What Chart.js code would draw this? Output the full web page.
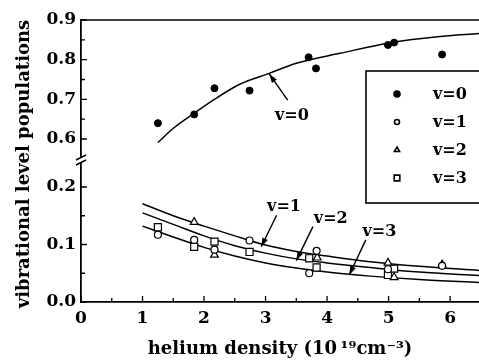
<!DOCTYPE html>
<html>
<head>
<meta charset="utf-8">
<script src="https://cdn.jsdelivr.net/npm/chart.js@4.4.0/dist/chart.umd.min.js"></script>
<style>
  html, body { margin: 0; padding: 0; background: #fff; }
  #wrap { width: 479px; height: 362px; }
</style>
</head>
<body>
<div id="wrap"><canvas id="chart" width="479" height="362"></canvas></div>
<script>
// measured points, helium density in 1e19 cm^-3
const v0X = [1.25, 1.84, 2.17, 2.74, 3.70, 3.82, 4.99, 5.09, 5.87];
const v0Y = [0.640, 0.662, 0.728, 0.722, 0.806, 0.778, 0.837, 0.843, 0.813];
const v1X = [1.25, 1.84, 2.17, 2.74, 3.71, 3.83, 4.99, 5.87];
const v1Y = [0.117, 0.108, 0.091, 0.107, 0.050, 0.089, 0.057, 0.063];
const v2X = [1.84, 2.17, 3.84, 4.99, 5.09, 5.87];
const v2Y = [0.139, 0.082, 0.077, 0.068, 0.043, 0.065];
const v3X = [1.25, 1.84, 2.17, 2.74, 3.71, 3.83, 4.99, 5.09];
const v3Y = [0.130, 0.096, 0.105, 0.087, 0.076, 0.060, 0.047, 0.058];

// fitted curves
const fit0X = [1.25, 1.5, 1.84, 2.15, 2.58, 3.07, 3.5, 4.21, 5.07, 5.8, 6.47];
const fit0Y = [0.591, 0.627, 0.665, 0.698, 0.738, 0.766, 0.791, 0.816, 0.844, 0.858, 0.866];
const fitX = [1.0, 1.5, 2.0, 2.5, 3.0, 3.5, 4.0, 4.7, 5.5, 6.47];
const fit1Y = [0.171, 0.150, 0.132, 0.115, 0.099, 0.088, 0.080, 0.070, 0.062, 0.055];
const fit2Y = [0.155, 0.135, 0.115, 0.098, 0.085, 0.075, 0.068, 0.060, 0.052, 0.046];
const fit3Y = [0.132, 0.113, 0.095, 0.080, 0.068, 0.059, 0.052, 0.045, 0.039, 0.034];

// axis ticks
const xTicks = [0, 1, 2, 3, 4, 5, 6];
const xMinor = [0.5, 1.5, 2.5, 3.5, 4.5, 5.5];
const yTopTicks = [0.6, 0.7, 0.8, 0.9];
const yTopMinor = [0.65, 0.75, 0.85];
const yBotTicks = [0.0, 0.1, 0.2];
const yBotMinor = [0.05, 0.15];

// curve labels with arrows (data coordinates)
const noteText = ['v=0', 'v=1', 'v=2', 'v=3'];
const noteAxis = ['yTop', 'yBot', 'yBot', 'yBot'];
const noteX = [3.43, 3.30, 4.06, 4.85];
const noteY = [0.659, 0.166, 0.144, 0.122];
const tailX = [3.36, 3.18, 3.77, 4.63];
const tailY = [0.698, 0.151, 0.131, 0.108];
const tipX = [3.06, 2.93, 3.50, 4.36];
const tipY = [0.764, 0.096, 0.072, 0.047];

const FONT = 'DejaVu Serif';

const pts = (xs, ys) => xs.map((x, i) => ({ x, y: ys[i] }));

function curve(xs, ys, axis) {
  return {
    data: pts(xs, ys), yAxisID: axis, showLine: true,
    borderColor: '#000', borderWidth: 1.5, pointRadius: 0,
    cubicInterpolationMode: 'monotone', fill: false,
  };
}

function drawArrow(ctx, x0, y0, x1, y1) {
  const ang = Math.atan2(y1 - y0, x1 - x0);
  ctx.beginPath();
  ctx.moveTo(x0, y0);
  ctx.lineTo(x1, y1);
  ctx.stroke();
  ctx.beginPath();
  ctx.moveTo(x1, y1);
  ctx.lineTo(x1 - 9 * Math.cos(ang) + 3 * Math.sin(ang), y1 - 9 * Math.sin(ang) - 3 * Math.cos(ang));
  ctx.lineTo(x1 - 9 * Math.cos(ang) - 3 * Math.sin(ang), y1 - 9 * Math.sin(ang) + 3 * Math.cos(ang));
  ctx.closePath();
  ctx.fill();
}

const decor = {
  id: 'decor',
  afterDraw(chart) {
    const { ctx, chartArea: a, scales } = chart;
    const sx = scales.x, yT = scales.yTop, yB = scales.yBot;
    ctx.save();
    ctx.strokeStyle = '#000';
    ctx.fillStyle = '#000';
    ctx.lineWidth = 1.6;

    // top frame line
    ctx.beginPath();
    ctx.moveTo(a.left, a.top);
    ctx.lineTo(a.right, a.top);
    ctx.stroke();

    // inward tick marks
    ctx.lineWidth = 1.3;
    ctx.beginPath();
    const yTick = (scale, vals, len) => vals.forEach(v => {
      const p = scale.getPixelForValue(v);
      ctx.moveTo(a.left, p); ctx.lineTo(a.left + len, p);
    });
    yTick(yT, yTopTicks, 6); yTick(yT, yTopMinor, 4);
    yTick(yB, yBotTicks, 6); yTick(yB, yBotMinor, 4);
    xTicks.forEach(v => { const p = sx.getPixelForValue(v); ctx.moveTo(p, a.bottom); ctx.lineTo(p, a.bottom - 6); });
    xMinor.forEach(v => { const p = sx.getPixelForValue(v); ctx.moveTo(p, a.bottom); ctx.lineTo(p, a.bottom - 4); });
    ctx.stroke();

    // axis break
    const b = yB.top;
    ctx.fillStyle = '#fff';
    ctx.fillRect(a.left - 3, b - 4, 6, 5);
    ctx.fillStyle = '#000';
    ctx.lineWidth = 1.4;
    ctx.beginPath();
    ctx.moveTo(a.left - 5, b - 2); ctx.lineTo(a.left + 5, b - 7);
    ctx.moveTo(a.left - 5, b + 3); ctx.lineTo(a.left + 5, b - 2);
    ctx.stroke();

    // y axis title
    ctx.save();
    ctx.translate(24, (a.top + a.bottom) / 2 + 3);
    ctx.rotate(-Math.PI / 2);
    ctx.font = 'bold 18px "' + FONT + '"';
    ctx.textAlign = 'center';
    ctx.textBaseline = 'middle';
    ctx.fillText('vibrational level populations', 0, 0);
    ctx.restore();

    // curve labels
    ctx.font = 'bold 16px "' + FONT + '"';
    ctx.textAlign = 'center';
    ctx.textBaseline = 'middle';
    ctx.lineWidth = 1.4;
    noteText.forEach((t, i) => {
      const ys = scales[noteAxis[i]];
      ctx.fillText(t, sx.getPixelForValue(noteX[i]), ys.getPixelForValue(noteY[i]));
      drawArrow(ctx, sx.getPixelForValue(tailX[i]), ys.getPixelForValue(tailY[i]),
        sx.getPixelForValue(tipX[i]), ys.getPixelForValue(tipY[i]));
    });

    // legend box
    const lx = 366, ly = 71, lh = 132;
    ctx.fillStyle = '#fff';
    ctx.fillRect(lx, ly, 200, lh);
    ctx.lineWidth = 1.6;
    ctx.strokeRect(lx, ly, 200, lh);
    ctx.fillStyle = '#000';
    ctx.textAlign = 'left';
    chart.data.datasets.filter(d => d.label).forEach((d, i) => {
      const yy = ly + 23 + i * 28;
      ctx.fillStyle = d.backgroundColor;
      ctx.strokeStyle = '#000';
      Chart.helpers.drawPoint(ctx, {
        pointStyle: d.pointStyle, rotation: 0,
        radius: d.legendRadius, borderWidth: 1.2,
      }, lx + 31, yy);
      ctx.fillStyle = '#000';
      ctx.fillText(d.label, lx + 67, yy + 1);
    });
    ctx.restore();
  }
};

const yCommon = {
  type: 'linear', position: 'left', stack: 'pop',
  grid: { display: false, drawTicks: false },
  border: { display: true, color: '#000', width: 1.8 },
  ticks: {
    color: '#000', padding: 5,
    font: { family: FONT, size: 17, weight: 'bold' },
    callback: v => v.toFixed(1),
  },
  afterFit: s => { s.width = 81; },
};

new Chart(document.getElementById('chart'), {
  type: 'scatter',
  data: {
    datasets: [
      { label: 'v=0', data: pts(v0X, v0Y), yAxisID: 'yTop', pointStyle: 'circle',
        backgroundColor: '#000', borderColor: '#000', pointRadius: 3.5, borderWidth: 1, legendRadius: 3 },
      { label: 'v=1', data: pts(v1X, v1Y), yAxisID: 'yBot', pointStyle: 'circle',
        backgroundColor: '#fff', borderColor: '#000', pointRadius: 3.5, borderWidth: 1.2, legendRadius: 2.5 },
      { label: 'v=2', data: pts(v2X, v2Y), yAxisID: 'yBot', pointStyle: 'triangle',
        backgroundColor: '#fff', borderColor: '#000', pointRadius: 4.5, borderWidth: 1.2, legendRadius: 3 },
      { label: 'v=3', data: pts(v3X, v3Y), yAxisID: 'yBot', pointStyle: 'rect',
        backgroundColor: '#fff', borderColor: '#000', pointRadius: 5, borderWidth: 1.2, legendRadius: 4 },
      curve(fit0X, fit0Y, 'yTop'),
      curve(fitX, fit1Y, 'yBot'),
      curve(fitX, fit2Y, 'yBot'),
      curve(fitX, fit3Y, 'yBot'),
    ],
  },
  options: {
    responsive: false,
    animation: false,
    layout: { autoPadding: false, padding: { top: 20, right: 0, bottom: 0, left: 0 } },
    plugins: { legend: { display: false }, tooltip: { enabled: false } },
    scales: {
      x: {
        type: 'linear', min: 0, max: 6.47,
        grid: { display: false, drawTicks: false },
        border: { display: true, color: '#000', width: 1.8 },
        afterBuildTicks: s => { s.ticks = xTicks.map(v => ({ value: v })); },
        ticks: { color: '#000', padding: 6, font: { family: FONT, size: 17, weight: 'bold' } },
        title: {
          display: true, text: 'helium density (10\u2009\u00b9\u2079cm\u207b\u00b3)', color: '#000',
          font: { family: FONT, size: 18, weight: 'bold' }, padding: { top: 0, bottom: 2 },
        },
        afterFit: s => { s.height = 60; s.paddingRight = 0; },
      },
      yBot: Object.assign({}, yCommon, {
        min: 0, max: 0.2435, stackWeight: 140,
        afterBuildTicks: s => { s.ticks = yBotTicks.map(v => ({ value: v })); },
      }),
      yTop: Object.assign({}, yCommon, {
        min: 0.542, max: 0.9, stackWeight: 142,
        afterBuildTicks: s => { s.ticks = yTopTicks.map(v => ({ value: v })); },
      }),
    },
  },
  plugins: [decor],
});
</script>
</body>
</html>
